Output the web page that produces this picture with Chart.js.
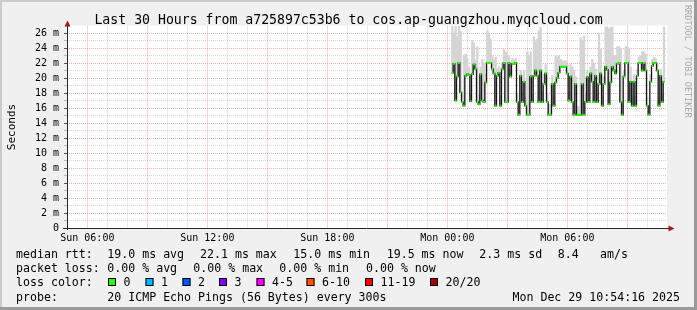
<!DOCTYPE html>
<html>
<head>
<meta charset="utf-8">
<script src="https://cdn.jsdelivr.net/npm/chart.js@4/dist/chart.umd.min.js"></script>
<style>
  html, body { margin: 0; padding: 0; background: #f0f0f0; }
  canvas { display: block; }
</style>
</head>
<body>
<canvas id="c" width="697" height="310"></canvas>
<script>
// time axis in minutes after Sun 00:00
const viewStart = 299;
const viewEnd = 2099;
const firstSample = 1455;   // Mon 00:15
const stepMinutes = 5;

// median round trip time per 5 minute sample, ms
const medianRtt = [
  20.7, 21.9, 17.0, 20.2, 22.0, 18.1, 16.8, 16.3, 20.3, 20.5,
  20.4, 16.9, 20.5, 21.8, 21.2, 16.8, 16.5, 20.5, 17.0, 16.8,
  19.4, 22.0, 22.0, 22.0, 21.2, 20.6, 16.3, 20.3, 20.7, 16.3,
  21.2, 22.0, 16.8, 16.8, 22.0, 20.2, 21.9, 21.9, 22.0, 16.8,
  15.1, 20.3, 16.8, 19.5, 16.3, 15.1, 15.1, 20.2, 16.8, 20.3,
  21.0, 20.3, 16.8, 21.0, 16.8, 19.2, 20.6, 16.8, 15.1, 15.1,
  19.2, 16.3, 19.4, 20.0, 20.7, 21.5, 21.5, 21.5, 21.5, 20.6,
  17.0, 20.2, 16.8, 15.1, 19.2, 15.1, 15.1, 15.1, 19.2, 15.1,
  16.8, 20.1, 16.8, 20.6, 19.5, 16.8, 20.3, 16.8, 19.2, 20.6,
  16.3, 19.2, 21.5, 21.1, 16.5, 19.4, 21.5, 21.0, 20.6, 21.9,
  22.0, 16.8, 15.1, 20.2, 22.0, 22.0, 16.8, 19.5, 16.3, 19.5,
  16.3, 20.3, 22.0, 22.0, 21.0, 22.0, 21.0, 16.3, 15.1, 19.5,
  21.6, 22.0, 22.0, 21.0, 16.3, 20.3, 16.8, 19.5
];

// top of the smoke (slowest ping) per sample, ms
const maxRtt = [
  26.9, 26.0, 26.9, 25.5, 26.9, 26.2, 18.0, 23.0, 23.2, 22.6,
  21.5, 18.0, 25.0, 24.6, 22.4, 24.2, 17.8, 21.5, 22.5, 22.0,
  20.5, 26.3, 26.0, 25.2, 23.0, 22.4, 22.8, 21.2, 21.5, 17.5,
  22.0, 23.8, 23.5, 23.0, 23.0, 21.0, 22.6, 22.4, 22.6, 18.0,
  16.5, 21.0, 18.0, 21.0, 17.5, 23.5, 23.0, 23.5, 18.0, 25.5,
  24.8, 25.2, 26.3, 26.8, 18.2, 20.5, 21.8, 18.0, 16.5, 16.5,
  20.4, 17.5, 23.0, 22.8, 23.0, 22.5, 22.3, 22.3, 22.3, 21.8,
  18.2, 21.8, 21.5, 21.0, 20.2, 16.2, 16.2, 25.4, 25.0, 25.6,
  18.0, 21.0, 17.8, 21.5, 22.5, 22.0, 21.2, 18.0, 26.0, 23.9,
  17.5, 20.2, 26.8, 26.8, 26.5, 26.8, 26.8, 23.0, 23.0, 24.2,
  24.2, 24.0, 16.5, 21.0, 24.2, 24.2, 24.0, 21.5, 17.5, 20.5,
  17.5, 21.2, 22.8, 23.0, 23.5, 23.5, 23.2, 17.5, 16.2, 20.5,
  22.5, 22.8, 22.6, 21.8, 17.5, 21.2, 17.8, 26.8
];

const xTickTimes = [360, 720, 1080, 1440, 1800];
const xTickLabels = ['Sun 06:00', 'Sun 12:00', 'Sun 18:00', 'Mon 00:00', 'Mon 06:00'];
const yTickValues = [0, 2, 4, 6, 8, 10, 12, 14, 16, 18, 20, 22, 24, 26];
const yTickLabels = ['0', '2 m', '4 m', '6 m', '8 m', '10 m', '12 m', '14 m', '16 m', '18 m', '20 m', '22 m', '24 m', '26 m'];

const titleText = 'Last 30 Hours from a725897c53b6 to cos.ap-guangzhou.myqcloud.com';
const rttStats = ['19.0 ms avg', '22.1 ms max', '15.0 ms min', '19.5 ms now', '2.3 ms sd', '8.4', 'am/s'];
const lossStats = ['0.00 % avg', '0.00 % max', '0.00 % min', '0.00 % now'];
const lossLabels = ['0', '1', '2', '3', '4-5', '6-10', '11-19', '20/20'];
const lossColors = ['#26ff00', '#00b8ff', '#0059ff', '#7e00ff', '#ff00ff', '#ff5500', '#ff0000', '#a00000'];
const probeText = '20 ICMP Echo Pings (56 Bytes) every 300s';
const stampText = 'Mon Dec 29 10:54:16 2025';

const sampleTimes = medianRtt.map((_, i) => firstSample + i * stepMinutes);
const medianPts = medianRtt.map((v, i) => ({x: sampleTimes[i], y: v}));
const smokePts = maxRtt.map((v, i) => ({x: sampleTimes[i], y: [medianRtt[i], v]}));

const hourTicks = [];
for (let t = 300; t < viewEnd; t += 60) hourTicks.push({value: t});
const yGrid = [];
for (let v = 0; v <= 26; v++) yGrid.push({value: v});

const MONO = '"DejaVu Sans Mono", monospace';
const minorGrid = 'rgba(190,190,190,0.6)';
const majorGrid = 'rgba(240,140,140,0.7)';

const rrdFrame = {
  id: 'rrdFrame',
  beforeDraw(chart) {
    const {ctx, chartArea: a} = chart;
    ctx.save();
    ctx.fillStyle = '#f0f0f0';
    ctx.fillRect(0, 0, 697, 310);
    ctx.fillStyle = '#cbcbcb';
    ctx.fillRect(0, 0, 697, 2);
    ctx.fillRect(0, 0, 2, 310);
    ctx.fillStyle = '#9a9a9a';
    ctx.fillRect(0, 307, 697, 3);
    ctx.fillRect(694, 0, 3, 310);
    ctx.fillStyle = '#ffffff';
    ctx.fillRect(a.left, a.top, a.right - a.left, a.bottom - a.top);
    ctx.restore();
  },
  afterDraw(chart) {
    const {ctx, chartArea: a} = chart;
    ctx.save();
    // axes
    ctx.strokeStyle = '#262626';
    ctx.lineWidth = 1;
    ctx.beginPath();
    ctx.moveTo(63, a.bottom + 0.5); ctx.lineTo(670, a.bottom + 0.5);
    ctx.moveTo(a.left + 0.5, a.bottom + 2); ctx.lineTo(a.left + 0.5, 24);
    ctx.stroke();
    ctx.fillStyle = '#a01818';
    ctx.beginPath();
    ctx.moveTo(a.left + 0.5, 20.5); ctx.lineTo(a.left - 2.5, 26.5); ctx.lineTo(a.left + 3.5, 26.5);
    ctx.closePath(); ctx.fill();
    ctx.beginPath();
    ctx.moveTo(674.5, a.bottom + 0.5); ctx.lineTo(668.5, a.bottom - 2.5); ctx.lineTo(668.5, a.bottom + 3.5);
    ctx.closePath(); ctx.fill();

    // title
    ctx.fillStyle = '#000';
    ctx.font = '13.2px ' + MONO;
    ctx.textAlign = 'center';
    ctx.textBaseline = 'alphabetic';
    ctx.fillText(titleText, 348.5, 24);

    // vertical axis label
    ctx.save();
    ctx.translate(14.5, 127);
    ctx.rotate(-Math.PI / 2);
    ctx.font = '11px ' + MONO;
    ctx.fillText('Seconds', 0, 0);
    ctx.restore();

    // watermark
    ctx.save();
    ctx.translate(684.5, 5);
    ctx.rotate(Math.PI / 2);
    ctx.font = '8.5px ' + MONO;
    ctx.fillStyle = '#a8a8a8';
    ctx.textAlign = 'left';
    ctx.fillText('RRDTOOL / TOBI OETIKER', 0, 0);
    ctx.restore();

    // legend
    ctx.font = '11.6px ' + MONO;
    ctx.textAlign = 'left';
    ctx.fillStyle = '#000';
    const rows = [257.8, 272.2, 286.2, 300.5];
    ctx.fillText('median rtt:', 16, rows[0]);
    const rttX = [107.3, 200, 293.3, 386.7, 479.3, 557.7, 600];
    rttStats.forEach((s, i) => ctx.fillText(s, rttX[i], rows[0]));
    ctx.fillText('packet loss:', 16, rows[1]);
    const lossX = [107.3, 193.3, 279.3, 366];
    lossStats.forEach((s, i) => ctx.fillText(s, lossX[i], rows[1]));
    ctx.fillText('loss color:', 16, rows[2]);
    const boxX = [108, 145.5, 182.5, 219, 256.5, 306.5, 365, 430];
    lossLabels.forEach((s, i) => {
      ctx.fillStyle = lossColors[i];
      ctx.fillRect(boxX[i], 278, 8, 8);
      ctx.strokeStyle = '#000';
      ctx.strokeRect(boxX[i] + 0.5, 278.5, 7, 7);
      ctx.fillStyle = '#000';
      ctx.fillText(s, boxX[i] + 15.5, rows[2]);
    });
    ctx.fillText('probe:', 16, rows[3]);
    ctx.fillText(probeText, 107.3, rows[3]);
    ctx.textAlign = 'right';
    ctx.fillText(stampText, 680, rows[3]);
    ctx.restore();
  }
};

new Chart(document.getElementById('c'), {
  type: 'bar',
  data: {
    datasets: [
      {
        type: 'line',
        data: medianPts,
        stepped: 'middle',
        borderColor: '#141414',
        borderWidth: 1.3,
        pointStyle: 'rect',
        pointRadius: 1.3,
        pointBorderWidth: 0,
        pointBackgroundColor: '#26ff00',
        order: 1
      },
      {
        type: 'bar',
        data: smokePts,
        backgroundColor: '#d4d4d4',
        borderWidth: 0,
        barPercentage: 1,
        categoryPercentage: 1,
        order: 2
      }
    ]
  },
  options: {
    responsive: false,
    animation: false,
    layout: { padding: { top: 25.5, right: 30, bottom: 0, left: 0 } },
    plugins: { legend: { display: false }, tooltip: { enabled: false }, title: { display: false } },
    scales: {
      x: {
        type: 'linear',
        min: viewStart,
        max: viewEnd,
        offset: false,
        afterBuildTicks: s => { s.ticks = hourTicks.map(t => ({value: t.value})); },
        afterFit: s => { s.height = 82; },
        grid: {
          offset: false,
          drawTicks: false,
          color: c => (c.tick && c.tick.value % 180 === 0 ? majorGrid : minorGrid)
        },
        border: { display: false, dash: [1, 1] },
        ticks: {
          autoSkip: false,
          maxRotation: 0,
          padding: 4,
          color: '#000',
          font: { family: MONO, size: 10 },
          callback: v => { const k = xTickTimes.indexOf(v); return k < 0 ? '' : xTickLabels[k]; }
        }
      },
      y: {
        min: 0,
        max: 27,
        afterBuildTicks: s => { s.ticks = yGrid.map(t => ({value: t.value})); },
        afterFit: s => { s.width = 67; },
        grid: {
          drawTicks: true,
          tickLength: 3,
          color: c => (c.tick && c.tick.value % 2 === 0 ? majorGrid : minorGrid),
          tickColor: c => (c.tick && c.tick.value % 2 === 0 ? '#555' : '#bbb')
        },
        border: { display: false, dash: [1, 1] },
        ticks: {
          autoSkip: false,
          padding: 5,
          color: '#000',
          font: { family: MONO, size: 10 },
          callback: v => { const k = yTickValues.indexOf(v); return k < 0 ? '' : yTickLabels[k]; }
        }
      }
    }
  },
  plugins: [rrdFrame]
});
</script>
</body>
</html>
